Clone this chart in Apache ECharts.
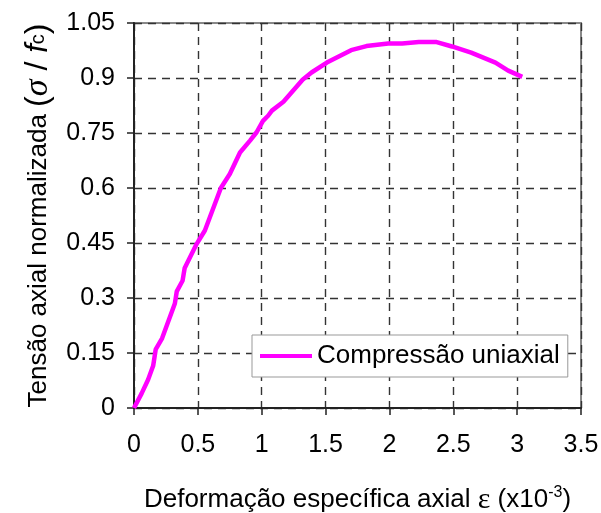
<!DOCTYPE html>
<html>
<head>
<meta charset="utf-8">
<script src="https://cdn.jsdelivr.net/npm/echarts@6/dist/echarts.min.js"></script>
<style>
  html, body { margin: 0; padding: 0; background: #fff; }
  #chart { width: 601px; height: 513px; }
</style>
</head>
<body>
<div id="chart"></div>
<script>
// deformacao especifica axial (x10^-3)
var strainValues = [0, 0.06, 0.11, 0.15, 0.17, 0.22, 0.32, 0.335, 0.38, 0.397, 0.49, 0.555, 0.68, 0.75, 0.83, 0.91, 0.96, 1.01, 1.05, 1.08, 1.17, 1.32, 1.39, 1.51, 1.70, 1.82, 1.99, 2.10, 2.23, 2.37, 2.49, 2.64, 2.83, 2.93, 3.04];
// tensao axial normalizada sigma/fc
var stressValues = [0, 0.04, 0.077, 0.115, 0.16, 0.19, 0.285, 0.318, 0.347, 0.382, 0.447, 0.484, 0.600, 0.638, 0.697, 0.73, 0.752, 0.783, 0.797, 0.811, 0.835, 0.895, 0.915, 0.942, 0.976, 0.987, 0.994, 0.994, 0.998, 0.998, 0.986, 0.969, 0.942, 0.920, 0.903];
var seriesName = 'Compressão uniaxial';

var points = [];
for (var i = 0; i < strainValues.length; i++) {
    points.push([strainValues[i], stressValues[i]]);
}

var font = 'Liberation Sans, Arial, sans-serif';
var chart = echarts.init(document.getElementById('chart'));
var option = {
    animation: false,
    textStyle: { fontFamily: font },
    grid: {
        left: 134, right: 20, top: 23, bottom: 105,
        outerBoundsMode: 'none',
        show: true, borderColor: '#888', borderWidth: 2
    },
    legend: {
        left: 252, top: 335,
        padding: [8, 8, 8, 8],
        backgroundColor: '#fff',
        borderColor: '#999', borderWidth: 1,
        icon: 'rect',
        itemWidth: 52, itemHeight: 4,
        textStyle: { fontSize: 26, color: '#000', fontFamily: font },
        data: [seriesName]
    },
    xAxis: {
        type: 'value',
        min: 0, max: 3.5, interval: 0.5,
        axisLine: { lineStyle: { color: '#222', width: 2 } },
        axisTick: { show: true, length: 7, lineStyle: { color: '#222', width: 1.5 } },
        axisLabel: { fontSize: 25, color: '#000', margin: 25 },
        splitLine: { show: true, lineStyle: { color: '#333', width: 1.4, type: [8, 6] } },
        name: 'Deformação específica axial {e|ε} (x10{sup|-3})',
        nameLocation: 'middle',
        nameGap: 77,
        nameTextStyle: {
            fontSize: 26, color: '#000',
            rich: {
                e: { fontSize: 30, fontFamily: 'Liberation Serif, serif', color: '#000' },
                sup: { fontSize: 16, verticalAlign: 'top', color: '#000' }
            }
        }
    },
    yAxis: {
        type: 'value',
        min: 0, max: 1.05, interval: 0.15,
        axisLine: { lineStyle: { color: '#222', width: 2 } },
        axisTick: { show: true, length: 7, lineStyle: { color: '#222', width: 1.5 } },
        axisLabel: {
            fontSize: 25, color: '#000', margin: 19,
            formatter: function (v) { return String(+v.toFixed(2)); }
        },
        splitLine: { show: true, lineStyle: { color: '#333', width: 1.4, type: [8, 6] } },
        name: 'Tensão axial normalizada {p|(}{s|σ}{p| / }{f|f}{c|c}{p|)}',
        nameLocation: 'middle',
        nameGap: 77,
        nameTextStyle: {
            fontSize: 26, color: '#000',
            rich: {
                p: { fontSize: 32, color: '#000' },
                s: { fontSize: 34, fontStyle: 'italic', fontFamily: 'Liberation Serif, serif', color: '#000' },
                f: { fontSize: 31, fontStyle: 'italic', color: '#000' },
                c: { fontSize: 20, color: '#000' }
            }
        }
    },
    series: [{
        name: seriesName,
        type: 'line',
        data: points,
        showSymbol: false,
        symbol: 'none',
        lineStyle: { color: '#ff00ff', width: 4.5 },
        itemStyle: { color: '#ff00ff' }
    }]
};
chart.setOption(option);
</script>
</body>
</html>
